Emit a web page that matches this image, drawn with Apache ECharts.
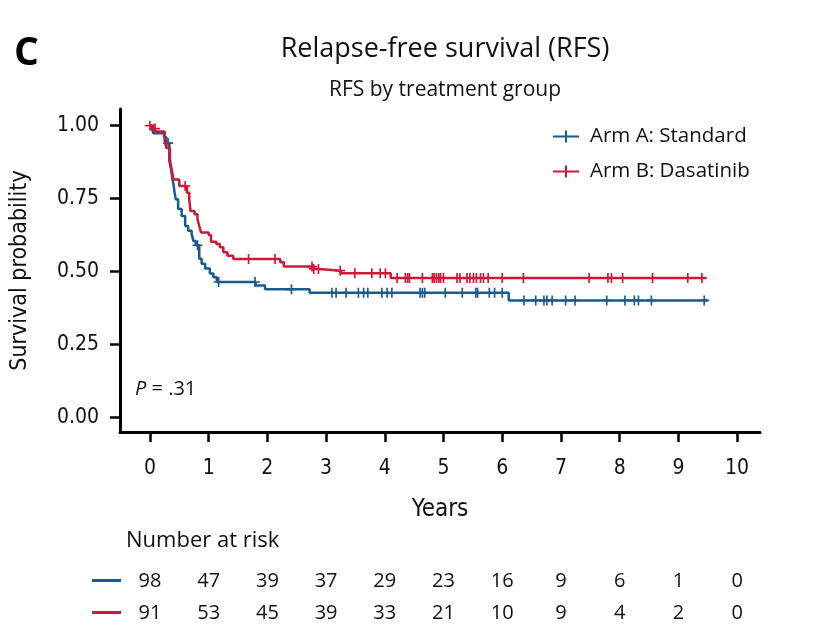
<!DOCTYPE html>
<html>
<head>
<meta charset="UTF-8">
<title>Relapse-free survival (RFS)</title>
<script src="https://cdn.jsdelivr.net/npm/echarts@6/dist/echarts.min.js"></script>
<style>
  html, body { margin: 0; padding: 0; background: #fff; }
  #main { width: 814px; height: 637px; }
</style>
</head>
<body>
<div id="main"></div>
<script>
// Arm A (Standard): event times (years) and survival after each step
var armATimes = [0, 0.04, 0.06, 0.24, 0.28, 0.33, 0.36, 0.38, 0.40, 0.42, 0.44, 0.48, 0.54, 0.60, 0.65, 0.71, 0.74, 0.78, 0.84, 0.88, 0.94, 1.02, 1.08, 1.14, 1.80, 1.96, 2.72, 6.11];
var armASurv  = [1.0, 0.985, 0.974, 0.96, 0.94, 0.88, 0.85, 0.82, 0.80, 0.77, 0.748, 0.714, 0.69, 0.656, 0.64, 0.629, 0.605, 0.59, 0.544, 0.527, 0.51, 0.493, 0.48, 0.464, 0.452, 0.439, 0.427, 0.401];
var armAEnd = 9.5;
var armACensor = [0.31, 0.81, 1.17, 1.79, 2.41, 3.10, 3.17, 3.34, 3.55, 3.64, 3.71, 3.95, 4.04, 4.12, 4.60, 4.64, 4.68, 5.03, 5.32, 5.55, 5.58, 5.78, 5.87, 6.00, 6.37, 6.57, 6.71, 6.76, 6.85, 7.08, 7.24, 7.78, 8.09, 8.25, 8.32, 8.54, 9.44];

// Arm B (Dasatinib)
var armBTimes = [0, 0.07, 0.09, 0.25, 0.28, 0.34, 0.37, 0.40, 0.50, 0.63, 0.67, 0.69, 0.76, 0.81, 0.84, 0.87, 1.00, 1.04, 1.13, 1.19, 1.25, 1.32, 1.42, 2.22, 2.28, 2.77, 2.88, 3.25, 4.10];
var armBSurv  = [1.0, 0.99, 0.98, 0.952, 0.923, 0.883, 0.85, 0.815, 0.793, 0.77, 0.747, 0.707, 0.696, 0.679, 0.656, 0.634, 0.625, 0.602, 0.594, 0.583, 0.566, 0.554, 0.543, 0.532, 0.517, 0.509, 0.503, 0.494, 0.478];
var armBEnd = 9.47;
var armBCensor = [0.0, 0.085, 0.60, 1.68, 2.13, 2.76, 2.79, 2.87, 3.24, 3.49, 3.78, 3.92, 4.01, 4.21, 4.35, 4.39, 4.42, 4.64, 4.81, 4.84, 4.88, 4.92, 4.95, 5.00, 5.23, 5.28, 5.40, 5.45, 5.51, 5.56, 5.63, 5.68, 5.76, 6.00, 6.36, 7.48, 7.80, 7.86, 8.05, 8.56, 9.16, 9.40];

// number at risk
var riskYears = [0, 1, 2, 3, 4, 5, 6, 7, 8, 9, 10];
var riskA = [98, 47, 39, 37, 29, 23, 16, 9, 6, 1, 0];
var riskB = [91, 53, 45, 39, 33, 21, 10, 9, 4, 2, 0];

var xTicks = [0, 1, 2, 3, 4, 5, 6, 7, 8, 9, 10];
var yTicks = [0, 0.25, 0.5, 0.75, 1.0];

var blue = '#1b5a8e';
var red = '#cd1838';
var narrow = "'Liberation Sans Narrow', 'DejaVu Sans Condensed', sans-serif";
var plain = "'Open Sans', 'Noto Sans', sans-serif";
var cross = 'path://M-1,-6H1V-1H6V1H1V6H-1V1H-6V-1H-1Z';
var legendIcon = 'path://M0,5H12V0H14V5H26V7H14V12H12V7H0Z';

function stepLine(times, surv, end) {
  var pts = times.map(function (t, i) { return [t, surv[i]]; });
  pts.push([end, surv[surv.length - 1]]);
  return pts;
}
// survival level of the curve at time t (for censor marks)
function survAt(times, surv, t) {
  var s = surv[0];
  for (var i = 0; i < times.length; i++) {
    if (times[i] <= t) s = surv[i];
  }
  return s;
}
function censorPts(times, surv, cens) {
  return cens.map(function (t) { return [t, survAt(times, surv, t)]; });
}
// extra x axis whose labels show the number at risk under each year tick
function riskAxis(vals, offset) {
  return {
    gridIndex: 0, type: 'value', min: -0.51, max: 10.39, position: 'bottom', offset: offset,
    axisLine: { show: false }, axisTick: { show: false }, splitLine: { show: false },
    axisLabel: {
      customValues: riskYears, margin: 0, fontFamily: plain, fontSize: 20, color: '#111',
      formatter: function (v) { return vals[riskYears.indexOf(Math.round(v))]; }
    }
  };
}

var myChart = echarts.init(document.getElementById('main'));

var option = {
  backgroundColor: '#fff',
  animation: false,
  title: [{
    text: 'Relapse-free survival (RFS)',
    left: 440, top: 31, textAlign: 'center',
    textStyle: { fontFamily: plain, fontSize: 27, fontWeight: 'normal', color: '#111' }
  }, {
    text: 'RFS by treatment group',
    left: 440, top: 75, textAlign: 'center',
    textStyle: { fontFamily: plain, fontSize: 21, fontWeight: 'normal', color: '#111' }
  }, {
    text: 'C',
    left: 9, top: 29,
    textStyle: { fontFamily: plain, fontSize: 39, fontWeight: 'bold', color: '#000' }
  }],
  legend: {
    orient: 'vertical',
    left: 548, top: 121,
    itemWidth: 26, itemHeight: 12, itemGap: 14,
    data: [
      { name: 'Arm A: Standard', icon: legendIcon, itemStyle: { color: blue } },
      { name: 'Arm B: Dasatinib', icon: legendIcon, itemStyle: { color: red } }
    ],
    textStyle: { fontFamily: plain, fontSize: 20.5, color: '#111', padding: [0, 0, 0, 6] }
  },
  grid: { left: 120, right: 54, top: 109, bottom: 205 },
  xAxis: [{
    type: 'value', min: -0.51, max: 10.39,
    name: 'Years', nameLocation: 'middle', nameGap: 66,
    nameTextStyle: { fontFamily: narrow, fontSize: 24, color: '#111' },
    splitLine: { show: false },
    axisLine: { onZero: false, lineStyle: { color: '#000', width: 3 } },
    axisTick: { customValues: xTicks, length: 10, lineStyle: { color: '#000', width: 2.5 } },
    axisLabel: { customValues: xTicks, margin: 26, fontFamily: narrow, fontSize: 21, color: '#111' }
  }, riskAxis(riskA, 139), riskAxis(riskB, 171)],
  yAxis: {
    type: 'value', min: -0.05, max: 1.057,
    name: 'Survival probability', nameLocation: 'middle', nameGap: 88, nameRotate: 90,
    nameTextStyle: { fontFamily: narrow, fontSize: 23, color: '#111' },
    splitLine: { show: false },
    axisLine: { onZero: false, lineStyle: { color: '#000', width: 3 } },
    axisTick: { customValues: yTicks, length: 10, lineStyle: { color: '#000', width: 2.5 } },
    axisLabel: {
      customValues: yTicks, margin: 21, fontFamily: narrow, fontSize: 21, color: '#111',
      formatter: function (v) { return v.toFixed(2); }
    }
  },
  graphic: [{
    type: 'text', left: 135, top: 379,
    style: {
      text: '{i|P} = .31',
      rich: { i: { fontStyle: 'italic', fontFamily: plain, fontSize: 20, fill: '#111' } },
      fontFamily: plain, fontSize: 20, fill: '#111'
    }
  }, {
    type: 'text', left: 126, top: 530,
    style: { text: 'Number at risk', fontFamily: plain, fontSize: 22, fill: '#111' }
  }, {
    type: 'rect', shape: { x: 92, y: 579, width: 29, height: 3 }, style: { fill: blue }
  }, {
    type: 'rect', shape: { x: 92, y: 611, width: 29, height: 3 }, style: { fill: red }
  }],
  series: [{
    name: 'Arm A: Standard', type: 'line', step: 'end', symbol: 'none',
    lineStyle: { color: blue, width: 2.5 }, itemStyle: { color: blue },
    data: stepLine(armATimes, armASurv, armAEnd), z: 3
  }, {
    name: 'Arm B: Dasatinib', type: 'line', step: 'end', symbol: 'none',
    lineStyle: { color: red, width: 2.5 }, itemStyle: { color: red },
    data: stepLine(armBTimes, armBSurv, armBEnd), z: 4
  }, {
    name: 'Arm A: Standard', type: 'scatter', symbol: cross, symbolSize: 10,
    itemStyle: { color: blue, opacity: 1 },
    data: censorPts(armATimes, armASurv, armACensor), z: 3
  }, {
    name: 'Arm B: Dasatinib', type: 'scatter', symbol: cross, symbolSize: 10,
    itemStyle: { color: red, opacity: 1 },
    data: censorPts(armBTimes, armBSurv, armBCensor), z: 4
  }]
};

myChart.setOption(option);
</script>
</body>
</html>
